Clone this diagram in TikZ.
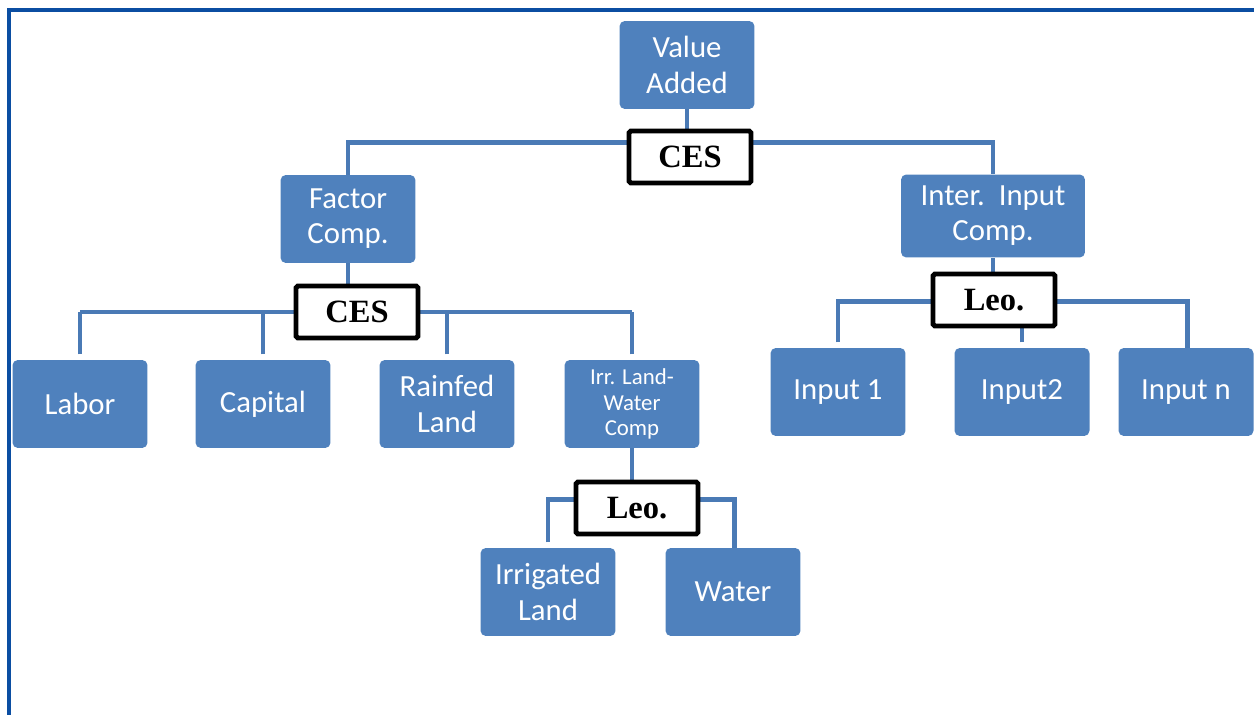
\documentclass[tikz,border=0pt]{standalone}
\usepackage{fontspec}
\newfontfamily\boxfont{Carlito}
\newfontfamily\opfont{Liberation Serif}
\usetikzlibrary{backgrounds}
\definecolor{boxblue}{HTML}{4F81BD}
\definecolor{linkblue}{HTML}{4A7AB5}
\definecolor{frameblue}{HTML}{0B4EA2}

\begin{document}
\begin{tikzpicture}[x=0.02cm, y=-0.02cm,
        box/.style={fill=boxblue, rounded corners=3pt, minimum width=2.7cm, minimum height=1.76cm, inner sep=1pt, text=white, align=center, font=\boxfont\fontsize{17.5}{20}\selectfont},
        op/.style={draw=black, fill=white, line width=2.8pt, rounded corners=1pt, minimum width=2.44cm, minimum height=1.04cm, font=\opfont\bfseries\fontsize{18.5}{20}\selectfont},
        link/.style={linkblue, line width=2.8pt}]
        \useasboundingbox (0,0) rectangle (1254,715);
        \draw[frameblue, line width=2pt] (1254,10) -- (9,10) -- (9,715);

        \node[box] (va) at (687,65) {Value\\Added};
        \node[op] (ces1) at (690,157) {CES};
        \node[box] (fc) at (348,219) {Factor\\Comp.};
        \node[box, minimum width=3.68cm, minimum height=1.66cm] (iic) at (993,216) {Inter.\ \ Input\\Comp.};
        \node[op] (ces2) at (357,312) {CES};
        \node[box] (labor) at (80,404) {Labor};
        \node[box] (capital) at (263,404) {Capital};
        \node[box] (rain) at (447,404) {Rainfed\\Land};
        \node[box, font=\boxfont\fontsize{13}{14.7}\selectfont] (irr) at (632,404) {Irr. Land-\\Water\\Comp};
        \node[op] (leo1) at (637,508) {Leo.};
        \node[box] (irland) at (548,592) {Irrigated\\Land};
        \node[box] (water) at (733,592) {Water};
        \node[op] (leo2) at (994,300) {Leo.};
        \node[box] (in1) at (838,392) {Input 1};
        \node[box] (in2) at (1022,392) {Input2};
        \node[box] (inn) at (1186,392) {Input n};

        \begin{scope}[on background layer]
        \draw[link] (va.south) -- (va.south |- ces1.north);
        \draw[link] (fc.north) -- ++(0,-32) -| (iic.north);
        \draw[link] (fc.south) -- (fc.south |- ces2.north);
        \draw[link] (labor.north |- ces2) -- (irr.north |- ces2);
        \foreach \n in {labor,capital,rain,irr}
            \draw[link, shorten <=3pt] (\n.north) -- (\n.north |- ces2);
        \draw[link] (irr.south) -- (irr.south |- leo1.north);
        \draw[link, shorten <=3pt] (irland.north) -- ++(0,-48) -| ([xshift=1pt]water.north);
        \draw[link] (iic.south) -- (iic.south |- leo2.north);
        \draw[link, shorten <=3pt] (in1.north) -- ++(0,-46) -| ([xshift=1pt]inn.north);
        \draw[link, shorten <=3pt] (in2.north) -- (in2.north |- leo2.south);
        \end{scope}
    \end{tikzpicture}
\end{document}
